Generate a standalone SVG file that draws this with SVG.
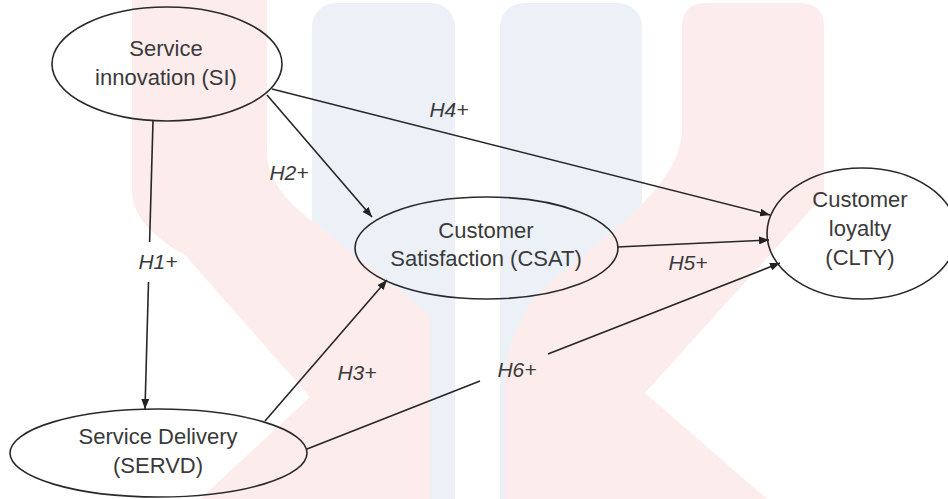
<svg xmlns="http://www.w3.org/2000/svg" width="948" height="499" viewBox="0 0 948 499">
<style>
.wm-p{fill:#fdecec;stroke:none}
.wm-b{fill:#ebf1f6;stroke:none}
.node ellipse{fill:none;stroke:#2a2a2a;stroke-width:1.6}
.node text{font-family:"Liberation Sans",Arial,sans-serif;font-size:22px;fill:#3a3a3a;text-anchor:middle}
.edge line{stroke:#262626;stroke-width:1.6}
.lbl{font-family:"Liberation Sans",Arial,sans-serif;font-size:21px;font-style:italic;fill:#3a3a3a;text-anchor:middle}
</style>
<defs>
<marker id="ah" viewBox="0 0 10 8" refX="10" refY="4" markerWidth="10" markerHeight="8" markerUnits="userSpaceOnUse" orient="auto">
<path d="M0,0 L10,4 L0,8 z" fill="#222"/>
</marker>
</defs>
<rect width="948" height="499" fill="#ffffff"/>
<g id="watermark">
<rect class="wm-b" x="312" y="3" width="143" height="520" rx="24"/>
<rect class="wm-b" x="500" y="3" width="142" height="520" rx="24"/>
<path class="wm-p" d="M132,0 H267 V150 C267,185 290,205 330,235 L430,315 V499 H200 L310,397 L185,255 C150,235 132,215 132,190 Z"/>
<path class="wm-p" d="M706,3 H800 Q824,3 824,27 V195 L645,393 L767,499 H505 V390 C505,340 525,300 565,270 C620,225 682,180 682,130 V27 Q682,3 706,3 Z"/>
</g>
<g id="connectors" class="edge">
<line x1="153" y1="121" x2="149.6" y2="242"/>
<line x1="148.5" y1="282" x2="145" y2="409" marker-end="url(#ah)"/>
<line x1="267" y1="95" x2="372" y2="217" marker-end="url(#ah)"/>
<line x1="272" y1="89" x2="770" y2="215" marker-end="url(#ah)"/>
<line x1="617" y1="247" x2="769" y2="240" marker-end="url(#ah)"/>
<line x1="265" y1="421" x2="387" y2="280" marker-end="url(#ah)"/>
<line x1="307" y1="449" x2="480" y2="381"/>
<line x1="548" y1="354" x2="780" y2="263" marker-end="url(#ah)"/>
</g>
<g id="labels">
<text class="lbl" x="158" y="269">H1+</text>
<text class="lbl" x="289" y="180">H2+</text>
<text class="lbl" x="357" y="380">H3+</text>
<text class="lbl" x="449" y="117">H4+</text>
<text class="lbl" x="688" y="270">H5+</text>
<text class="lbl" x="517" y="377">H6+</text>
</g>
<g id="SI" class="node">
<ellipse cx="167" cy="64" rx="115" ry="57"/>
<text x="166" y="56">Service</text>
<text x="166" y="85">innovation (SI)</text>
</g>
<g id="CSAT" class="node">
<ellipse cx="486.5" cy="248" rx="131.5" ry="51"/>
<text x="486" y="238">Customer</text>
<text x="486" y="266">Satisfaction (CSAT)</text>
</g>
<g id="CLTY" class="node">
<ellipse cx="862" cy="233.5" rx="95" ry="65.5"/>
<text x="860" y="207">Customer</text>
<text x="860" y="236">loyalty</text>
<text x="860" y="265">(CLTY)</text>
</g>
<g id="SERVD" class="node">
<ellipse cx="158.5" cy="453" rx="148.5" ry="44"/>
<text x="158" y="444">Service Delivery</text>
<text x="158" y="473">(SERVD)</text>
</g>
</svg>
